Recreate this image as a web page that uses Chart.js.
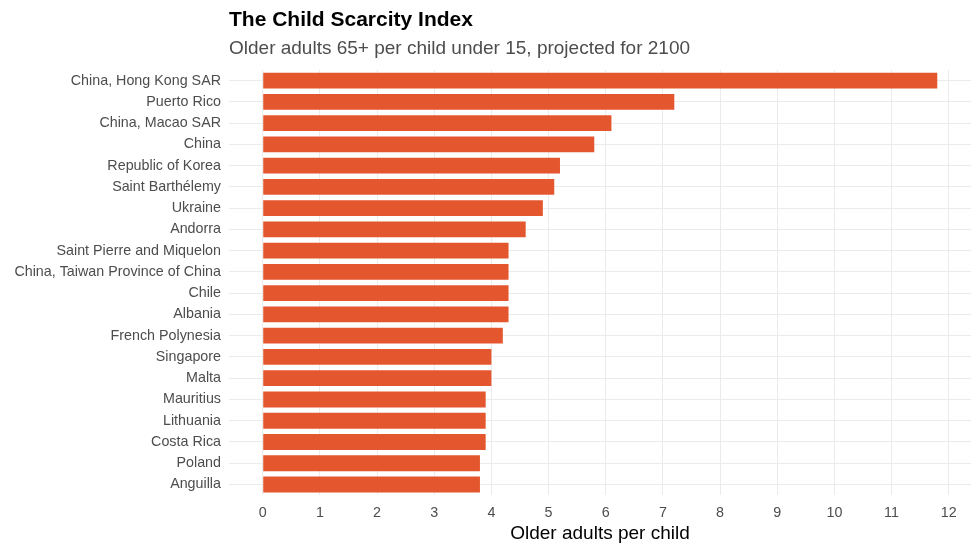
<!DOCTYPE html>
<html>
<head>
<meta charset="utf-8">
<script src="https://cdn.jsdelivr.net/npm/chart.js@4/dist/chart.umd.min.js"></script>
<style>
html,body{margin:0;padding:0;background:#fff;}
#wrap{width:977px;height:551px;position:relative;}
</style>
</head>
<body>
<div id="wrap"><canvas id="c"></canvas></div>
<script>
const countries = ["China, Hong Kong SAR","Puerto Rico","China, Macao SAR","China","Republic of Korea","Saint Barthélemy","Ukraine","Andorra","Saint Pierre and Miquelon","China, Taiwan Province of China","Chile","Albania","French Polynesia","Singapore","Malta","Mauritius","Lithuania","Costa Rica","Poland","Anguilla"];
const ratios = [11.8,7.2,6.1,5.8,5.2,5.1,4.9,4.6,4.3,4.3,4.3,4.3,4.2,4.0,4.0,3.9,3.9,3.9,3.8,3.8];
const xTicks = [0,1,2,3,4,5,6,7,8,9,10,11,12];
const titleText = "The Child Scarcity Index";
const subtitleText = "Older adults 65+ per child under 15, projected for 2100";
const xTitle = "Older adults per child";

const FONT = "'Liberation Sans', Arial, sans-serif";
const xMax = Math.max(...ratios);
const pad = xMax * 0.05;

new Chart(document.getElementById('c'), {
  type: 'bar',
  data: {
    labels: countries,
    datasets: [{
      data: ratios,
      backgroundColor: '#E4572E',
      borderWidth: 0,
      barPercentage: 0.75,
      categoryPercentage: 1
    }]
  },
  options: {
    indexAxis: 'y',
    responsive: true,
    maintainAspectRatio: false,
    animation: false,
    layout: { padding: { left: 0, right: 6, top: 0, bottom: 6 } },
    plugins: {
      legend: { display: false },
      tooltip: { enabled: false },
      title: {
        display: true, text: titleText, align: 'start', fullSize: false,
        color: '#000', font: { family: FONT, size: 21, weight: 'bold' },
        padding: { top: 8, bottom: 4 }
      },
      subtitle: {
        display: true, text: subtitleText, align: 'start', fullSize: false,
        color: '#4D4D4D', font: { family: FONT, size: 19 },
        padding: { top: 0, bottom: 10 }
      }
    },
    scales: {
      x: {
        type: 'linear',
        min: -pad, max: xMax + pad,
        afterBuildTicks: (s) => { s.ticks = xTicks.map(v => ({ value: v })); },
        ticks: { color: '#4D4D4D', font: { family: FONT, size: 14.3 }, padding: 9 },
        grid: { color: '#EBEBEB', lineWidth: 1, drawTicks: false },
        border: { display: false },
        title: { display: true, text: xTitle, color: '#000', font: { family: FONT, size: 19 }, padding: { top: -8, bottom: 0 } }
      },
      y: {
        type: 'category',
        offset: true,
        afterFit: (s) => { s.width = 229; },
        ticks: { color: '#4D4D4D', font: { family: FONT, size: 14.3 }, padding: 8 },
        grid: { color: '#EBEBEB', lineWidth: 1, offset: false, drawTicks: false },
        border: { display: false }
      }
    }
  }
});
</script>
</body>
</html>
